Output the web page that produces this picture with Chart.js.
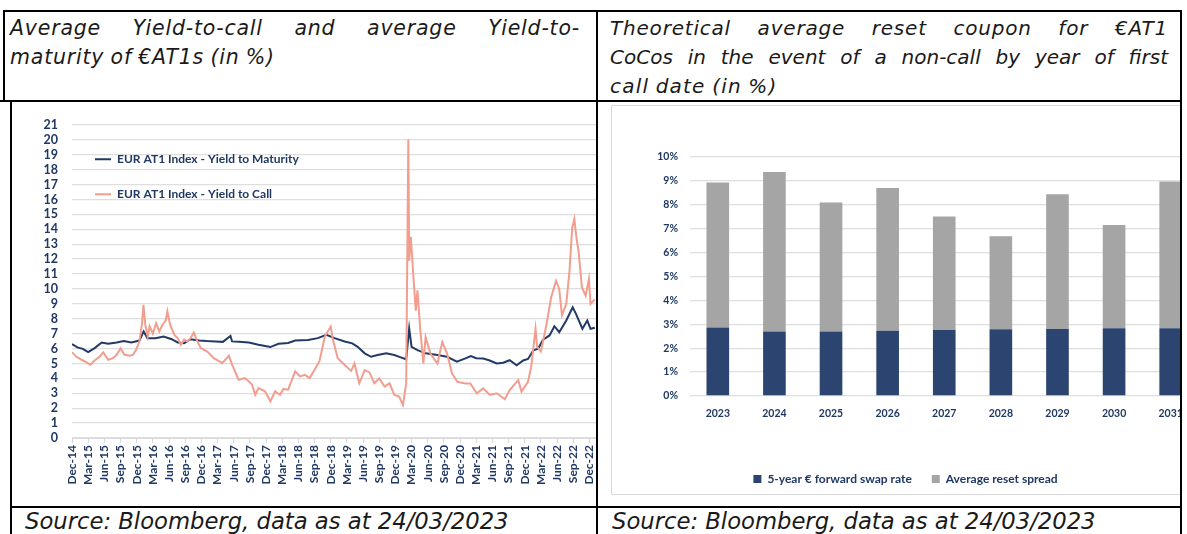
<!DOCTYPE html>
<html>
<head>
<meta charset="utf-8">
<script src="https://cdn.jsdelivr.net/npm/chart.js@4.4.1/dist/chart.umd.min.js"></script>
<style>
    body { margin: 0; background: #fff; width: 1187px; height: 534px; overflow: hidden; position: relative; font-family: "DejaVu Sans", sans-serif; }
    .ln { position: absolute; background: #000; }
    .hd { position: absolute; font-style: italic; font-size: 20px; line-height: 29px; color: #1a1a1a; word-spacing: -1px; }
    .hd span { display: block; text-align: justify; text-align-last: justify; white-space: nowrap; }
    .hd span.last { text-align-last: left; }
    .src { position: absolute; font-style: italic; font-size: 22.7px; line-height: 26px; color: #1a1a1a; white-space: nowrap; }
    .clip { position: absolute; overflow: hidden; }
    .wrap { position: absolute; }
    .frame { position: absolute; border: 1px solid #d9d9d9; }
</style>
</head>
<body>

<div class="ln" style="left:3px;top:10px;width:1179px;height:2px"></div>
<div class="ln" style="left:0;top:100px;width:1182px;height:2px"></div>
<div class="ln" style="left:10px;top:506px;width:1172px;height:2px"></div>
<div class="ln" style="left:3px;top:10px;width:2px;height:92px"></div>
<div class="ln" style="left:10px;top:100px;width:2px;height:434px"></div>
<div class="ln" style="left:596px;top:10px;width:2px;height:524px"></div>
<div class="ln" style="left:1180px;top:10px;width:2px;height:524px"></div>

<div class="hd" style="left:10px;top:14px;width:570px;font-size:20.5px;letter-spacing:0.8px">
    <span>Average Yield-to-call and average Yield-to-</span>
    <span class="last">maturity of €AT1s (in %)</span>
</div>
<div class="hd" style="left:610px;top:14px;width:558px">
    <span style="letter-spacing:0.8px">Theoretical average reset coupon for €AT1</span>
    <span>CoCos in the event of a non-call by year of first</span>
    <span class="last" style="letter-spacing:1.2px">call date (in %)</span>
</div>

<div class="clip" style="left:12px;top:102px;width:584px;height:404px">
    <div class="wrap" style="left:0;top:0;width:610px;height:404px"><canvas id="graficoYield"></canvas></div>
</div>

<div class="clip" style="left:598px;top:102px;width:582px;height:404px">
    <div class="frame" style="left:13px;top:3px;width:620px;height:388px"></div>
    <div class="wrap" style="left:14px;top:4px;width:587px;height:389px"><canvas id="graficoCupom"></canvas></div>
</div>

<div class="src" style="left:25px;top:508px">Source: Bloomberg, data as at 24/03/2023</div>
<div class="src" style="left:612px;top:508px">Source: Bloomberg, data as at 24/03/2023</div>

<script>
// --- dados: yield (meses desde Dez-14) ---
var rotulosTrimestre = ['Dec-14', 'Mar-15', 'Jun-15', 'Sep-15', 'Dec-15', 'Mar-16', 'Jun-16', 'Sep-16',
    'Dec-16', 'Mar-17', 'Jun-17', 'Sep-17', 'Dec-17', 'Mar-18', 'Jun-18', 'Sep-18', 'Dec-18', 'Mar-19',
    'Jun-19', 'Sep-19', 'Dec-19', 'Mar-20', 'Jun-20', 'Sep-20', 'Dec-20', 'Mar-21', 'Jun-21', 'Sep-21',
    'Dec-21', 'Mar-22', 'Jun-22', 'Sep-22', 'Dec-22', 'Mar-23'];

var ytmMes = [0, 1, 2, 3, 4.2, 5.5, 6.7, 8.3, 9.6, 11, 12.5, 13.3, 14, 15.5, 17, 18.5, 19.6, 20.8, 22, 23.6,
    25, 26.6, 28, 29.4, 29.7, 31, 32.8, 34.6, 36.8, 38.3, 40.1, 41.4, 43.8, 45.6, 47.2, 48.7, 50.6, 52, 53,
    54.3, 55.5, 56.7, 58.3, 59.8, 61, 62, 62.56, 63, 64.1, 65.6, 67.8, 69.6, 71.4, 73, 74, 75, 76.3, 77.5,
    78.8, 80, 81.2, 82.5, 83.7, 84.6, 85.6, 86.5, 87.4, 88.6, 89.5, 90.4, 91.7, 92.9, 93.5, 94.7, 95.6, 96.2, 97];
var ytmValores = [6.3, 6.08, 5.98, 5.76, 6.03, 6.41, 6.32, 6.41, 6.5, 6.41, 6.54, 7.15, 6.7, 6.7, 6.81, 6.63,
    6.41, 6.36, 6.63, 6.54, 6.5, 6.48, 6.45, 6.85, 6.48, 6.45, 6.41, 6.25, 6.1, 6.32, 6.37, 6.54, 6.58, 6.7,
    6.92, 6.7, 6.48, 6.35, 6.12, 5.68, 5.45, 5.57, 5.68, 5.57, 5.41, 5.28, 7.35, 6.12, 5.9, 5.68, 5.57, 5.45,
    5.12, 5.34, 5.5, 5.35, 5.33, 5.2, 5.0, 5.05, 5.22, 4.88, 5.2, 5.3, 5.88, 6.0, 6.6, 6.88, 7.5, 7.1, 7.88,
    8.77, 8.33, 7.33, 7.88, 7.33, 7.4];

var ytcMes = [0, 0.86, 1.8, 2.7, 3.4, 4.2, 5.15, 5.8, 6.7, 7.6, 8.3, 9, 9.75, 10.7, 11.3, 11.9, 12.5, 13,
    13.25, 13.6, 14.05, 14.4, 15, 15.6, 16.2, 16.8, 17.4, 17.7, 18.2, 19, 19.6, 20.2, 20.8, 21.4, 22, 22.6,
    23.25, 23.9, 25.1, 26.3, 27.9, 29.1, 29.7, 30.9, 32.1, 33.4, 34, 34.6, 35.8, 36.8, 37.7, 38.6, 39.2, 40.1,
    41.4, 42.3, 43.2, 44.1, 45, 45.9, 46.9, 48, 48.4, 49.3, 50.6, 51.8, 52.4, 53.3, 54.3, 55.2, 56.1, 57, 58,
    58.9, 59.8, 60.7, 61.4, 62, 62.4, 62.56, 62.86, 63.35, 63.78, 64.09, 64.58, 65.19, 65.6, 66.5, 67.8, 68.7,
    69.6, 70.5, 71.5, 73, 73.9, 75.1, 76.3, 77.5, 78.8, 80.3, 81.2, 82.8, 83.4, 84.6, 85.2, 86, 86.3, 87, 88,
    88.9, 89.8, 90.4, 90.9, 91.7, 92.3, 92.8, 93.2, 93.6, 94, 94.6, 95.3, 95.9, 96.2, 97];
var ytcValores = [5.76, 5.43, 5.25, 5.07, 4.92, 5.2, 5.47, 5.74, 5.25, 5.36, 5.58, 6.03, 5.58, 5.52, 5.58,
    5.92, 6.48, 7.7, 8.93, 7.6, 6.8, 7.5, 7.0, 7.7, 7.15, 7.6, 7.9, 8.5, 7.6, 6.92, 6.7, 6.25, 6.6, 6.48, 6.7,
    7.08, 6.48, 6.03, 5.8, 5.36, 5.03, 5.52, 4.92, 3.91, 4.02, 3.58, 2.9, 3.35, 3.13, 2.46, 3.13, 2.9, 3.29,
    3.24, 4.47, 4.13, 4.24, 4.02, 4.58, 5.14, 6.81, 7.48, 6.6, 5.36, 4.9, 4.5, 5.0, 3.67, 4.56, 4.4, 3.67, 4.0,
    3.45, 3.67, 2.89, 2.78, 2.22, 3.67, 20.04, 11.9, 13.5, 10.8, 8.55, 9.9, 7.44, 5.0, 6.77, 5.66, 5.0, 6.44,
    5.66, 4.33, 3.77, 3.66, 3.66, 3.0, 3.33, 2.89, 3.0, 2.6, 3.22, 3.88, 3.11, 3.77, 4.77, 7.33, 6.11, 5.8,
    7.55, 9.44, 10.55, 10.0, 8.22, 9.0, 11.2, 14.1, 14.7, 13.4, 12.5, 10.1, 9.55, 10.66, 9.0, 9.3];

// --- dados: cupom de reset (em %) ---
var anosCall = ['2023', '2024', '2025', '2026', '2027', '2028', '2029', '2030', '2031'];
var swapForward = [2.87, 2.70, 2.70, 2.73, 2.76, 2.79, 2.80, 2.83, 2.83];
var spreadReset = [6.06, 6.67, 5.40, 5.97, 4.75, 3.89, 5.64, 4.32, 6.14];

var AZUL = '#1f3864';

function juntarPontos(xs, ys) {
    return xs.map(function (x, i) { return { x: x, y: ys[i] }; });
}

function renderizarGraficoYield() {
    var ctx = document.getElementById('graficoYield').getContext('2d');
    new Chart(ctx, {
        type: 'line',
        data: {
            datasets: [
                {
                    label: 'EUR AT1 Index - Yield to Maturity',
                    data: juntarPontos(ytmMes, ytmValores),
                    borderColor: '#213a66',
                    backgroundColor: '#213a66',
                    borderWidth: 2,
                    pointRadius: 0,
                    tension: 0,
                    order: 1
                },
                {
                    label: 'EUR AT1 Index - Yield to Call',
                    data: juntarPontos(ytcMes, ytcValores),
                    borderColor: '#f29d8e',
                    backgroundColor: '#f29d8e',
                    borderWidth: 2,
                    pointRadius: 0,
                    tension: 0,
                    order: 0
                }
            ]
        },
        options: {
            responsive: true,
            maintainAspectRatio: false,
            animation: false,
            layout: { padding: { top: 23, right: 12, left: 0, bottom: 0 } },
            plugins: {
                tooltip: { enabled: false },
                legend: {
                    position: 'chartArea',
                    align: 'start',
                    // titulo vazio so para empurrar a legenda para baixo
                    title: { display: true, text: ' ', font: { size: 1 }, padding: { top: 27, bottom: 0 } },
                    labels: {
                        usePointStyle: true,
                        pointStyle: 'line',
                        pointStyleWidth: 16,
                        padding: 23,
                        color: AZUL,
                        font: { family: 'Lato', weight: 'bold', size: 12 },
                        sort: function (a, b) { return a.datasetIndex - b.datasetIndex; }
                    }
                }
            },
            scales: {
                x: {
                    type: 'linear',
                    min: 0,
                    max: 99,
                    afterFit: function (s) { s.height = 68; },
                    ticks: {
                        stepSize: 3,
                        autoSkip: false,
                        minRotation: 90,
                        maxRotation: 90,
                        padding: 2,
                        color: AZUL,
                        font: { family: 'Lato', weight: 'bold', size: 12 },
                        callback: function (v) { return rotulosTrimestre[Math.round(v / 3)]; }
                    },
                    grid: { drawOnChartArea: false, drawTicks: true, tickLength: 5, color: '#d9d9d9' },
                    border: { color: '#d9d9d9' }
                },
                y: {
                    min: 0,
                    max: 21,
                    afterFit: function (s) { s.width = 60; },
                    ticks: {
                        stepSize: 1,
                        autoSkip: false,
                        padding: 14,
                        color: AZUL,
                        font: { family: 'Lato', weight: 'bold', size: 12.5 }
                    },
                    grid: { color: '#dedede', lineWidth: 1.3, drawTicks: false },
                    border: { display: false }
                }
            }
        }
    });
}

function renderizarGraficoCupom() {
    var ctx = document.getElementById('graficoCupom').getContext('2d');
    new Chart(ctx, {
        type: 'bar',
        data: {
            labels: anosCall,
            datasets: [
                { label: '5-year € forward swap rate', data: swapForward, backgroundColor: '#2c4470' },
                { label: 'Average reset spread', data: spreadReset, backgroundColor: '#a5a5a5' }
            ]
        },
        options: {
            responsive: true,
            maintainAspectRatio: false,
            animation: false,
            layout: { padding: { top: 51, right: 0, left: 0, bottom: 0 } },
            datasets: { bar: { categoryPercentage: 1, barPercentage: 0.4 } },
            plugins: {
                tooltip: { enabled: false },
                legend: {
                    position: 'bottom',
                    labels: {
                        boxWidth: 8,
                        boxHeight: 8,
                        padding: 20,
                        color: AZUL,
                        font: { family: 'Lato', weight: 'bold', size: 12 }
                    }
                }
            },
            scales: {
                x: {
                    stacked: true,
                    afterFit: function (s) { s.height = 57; },
                    ticks: { padding: 11, color: AZUL, font: { family: 'Lato', weight: 'bold', size: 10.5 } },
                    grid: { display: false, drawTicks: false },
                    border: { display: false }
                },
                y: {
                    stacked: true,
                    min: 0,
                    max: 10,
                    afterFit: function (s) { s.width = 77.5; },
                    ticks: {
                        stepSize: 1,
                        padding: 11.5,
                        color: AZUL,
                        font: { family: 'Lato', weight: 'bold', size: 10.5 },
                        callback: function (v) { return v + '%'; }
                    },
                    grid: { color: '#dedede', lineWidth: 1.3, drawTicks: false },
                    border: { display: false }
                }
            }
        }
    });
}

document.addEventListener('DOMContentLoaded', function () {
    renderizarGraficoYield();
    renderizarGraficoCupom();
});
</script>
</body>
</html>
